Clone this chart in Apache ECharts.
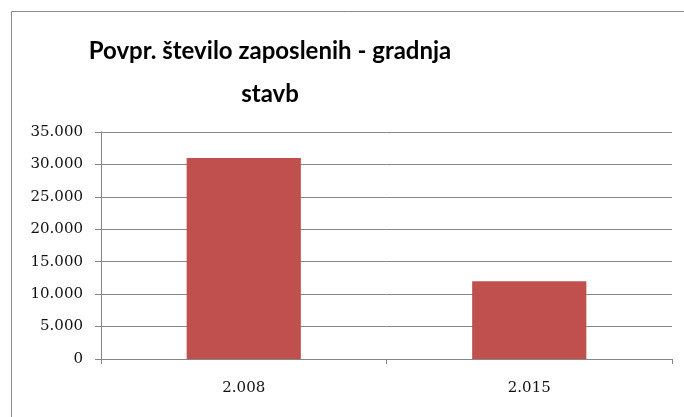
<!DOCTYPE html>
<html><head><meta charset="utf-8">
<script src="https://cdn.jsdelivr.net/npm/echarts@6/dist/echarts.min.js"></script>
<style>html,body{margin:0;padding:0;background:#fff}#c{width:684px;height:417px}</style>
</head><body><div id="c"></div>
<script>
const titleText = "Povpr. število zaposlenih - gradnja\nstavb";
const categories = ["2.008", "2.015"];
const values = [31000, 12000];
const yTicks = { min: 0, max: 35000, interval: 5000 };

const chart = echarts.init(document.getElementById('c'), null, { renderer: 'canvas' });
function fmt(v) { return String(v).replace(/\B(?=(\d{3})+(?!\d))/g, '.'); }
chart.setOption({
  animation: false,
  backgroundColor: '#fff',
  graphic: [{
    type: 'rect', silent: true,
    shape: { x: 11.5, y: 11.5, width: 720, height: 450 },
    style: { fill: 'none', stroke: '#8a8a8a', lineWidth: 1 }
  }],
  title: {
    text: titleText,
    left: 265, top: 25, textAlign: 'center',
    textStyle: { fontFamily: 'Lato', fontWeight: 700, fontSize: 24, color: '#000', lineHeight: 43 }
  },
  grid: { left: 101, right: 12, top: 132, bottom: 58, containLabel: false },
  xAxis: {
    type: 'category', data: categories,
    axisLine: { lineStyle: { color: '#868686', width: 1 } },
    axisTick: { show: true, length: 5, lineStyle: { color: '#868686' } },
    axisLabel: { color: '#111', fontFamily: 'DejaVu Serif', fontSize: 15, margin: 22 }
  },
  yAxis: {
    type: 'value', min: yTicks.min, max: yTicks.max, interval: yTicks.interval,
    axisLine: { show: true, lineStyle: { color: '#868686', width: 1 } },
    axisTick: { show: true, length: 6, lineStyle: { color: '#868686' } },
    splitLine: { lineStyle: { color: '#868686', width: 1 } },
    axisLabel: { color: '#111', fontFamily: 'DejaVu Serif', fontSize: 15, margin: 18, formatter: fmt }
  },
  series: [{
    type: 'bar', data: values, barWidth: '40%',
    itemStyle: { color: '#c0504d' }
  }]
});
</script></body></html>
